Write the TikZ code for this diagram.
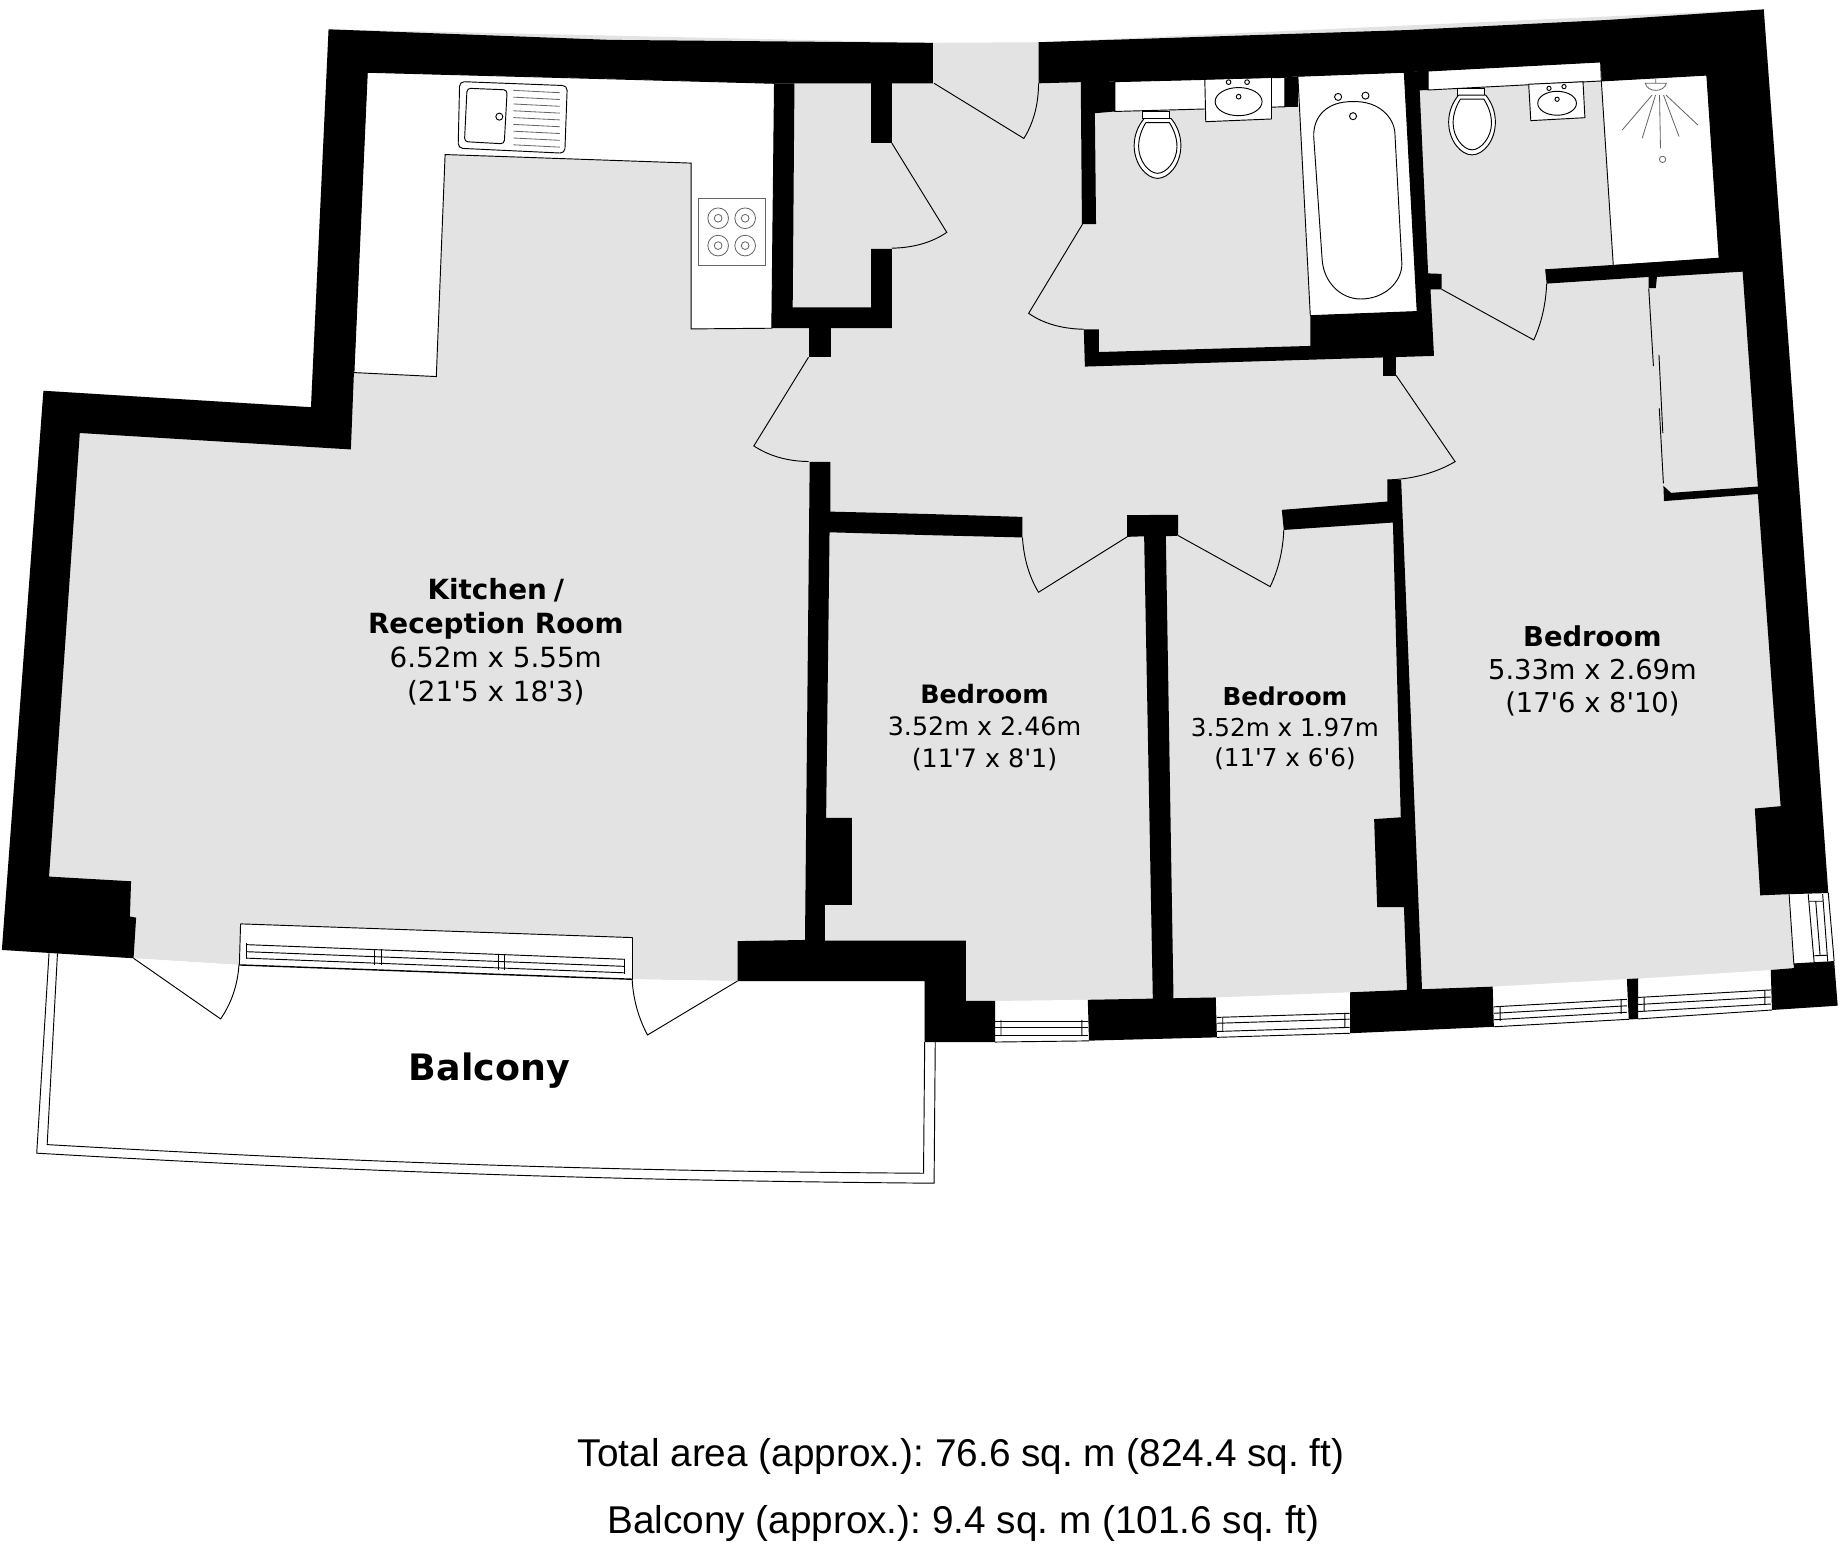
\documentclass[tikz,border=0pt]{standalone}
\usepackage{fontspec}
\usetikzlibrary{calc}
\setmainfont{DejaVu Sans}
\newfontfamily\areafont{Liberation Sans}

\definecolor{floorgray}{HTML}{E3E3E3}
\tikzset{
  floorfill/.style={fill=floorgray},
  wallfill/.style={fill=black},
  fixfill/.style={fill=white,draw=black,line width=0.8pt},
  thinline/.style={draw=black,line width=0.8pt},
  grayline/.style={draw=black!60,line width=0.7pt},
  roomname/.style={align=center,inner sep=0pt},
}
\newcommand{\ft}{\textquotesingle}

\begin{document}
\frenchspacing
\begin{tikzpicture}[x=1pt,y=-1pt]

\useasboundingbox (0,0) rectangle (1568,1315.7);
\fill[white] (0,0) rectangle (1568,1315.7);

% balcony rail
\draw[thinline] (41.8,812) -- (31.3,982.7) .. controls (313,999) and (522,1006) .. (796,1008.3) -- (797,888);
\draw[thinline] (49,812) -- (40.2,975.4) .. controls (313,991) and (522,998) .. (787,999.8) -- (788,888);

% floor
\fill[floorfill] (280,25) -- (795,36.5) -- (885,36) -- (1503,8) -- (1534,426) -- (1558,761) -- (1566,857)
  -- (1510,860) -- (1273,875) -- (1037,884) -- (788,888) -- (788,836) -- (628.5,836) -- (539,834.5)
  -- (204,822.3) -- (113.8,816.6) -- (1.6,809.5) -- (37,333) -- (265,347) -- cycle;

% kitchen units and bathroom fittings
\fill[fixfill] (313,61.6) -- (660,71) -- (657.7,279.7) -- (589,280.3) -- (589,139) -- (379.3,131.7)
  -- (371.8,320.9) -- (301.6,317.5) -- cycle;
\fill[fixfill] (950,69.6) -- (1095,66) -- (1095,91) -- (950,95) -- cycle;
\fill[fixfill] (1106,65) -- (1196.7,61.6) -- (1207.7,265.5) -- (1116.6,269) -- cycle;
\fill[fixfill] (1217,60.5) -- (1364,52.8) -- (1364.6,69) -- (1217,76.7) -- cycle;
\fill[fixfill] (1364.6,69) -- (1454.5,64) -- (1465,220) -- (1374.8,226.3) -- cycle;

% sink
\draw[thinline,rounded corners=4pt] (391.7,69.5) -- (483.4,73) -- (481.3,130.6) -- (390.4,126.3) -- cycle;
\draw[thinline,rounded corners=3pt] (398,75.2) -- (432.2,76.6) -- (429.7,122.6) -- (395.8,120.7) -- cycle;
\draw[thinline] (425.5,99.4) circle (3);
\foreach \i in {0,...,8}
  \draw[grayline] (437.5,{77+5.8*\i}) -- (477,{79+5.8*\i});

% hob
\draw[grayline] (595,169) rectangle (652,226.6);
\foreach \hx in {612,635}
  \foreach \hy in {186,209.3} {
    \draw[grayline] (\hx,\hy) circle (8.8);
    \draw[grayline] (\hx,\hy) circle (3.3);
  }

% toilets
\foreach \tx/\ty in {0/0,268/-20} {
  \begin{scope}[shift={(\tx,\ty)}]
    \draw[fixfill] (973.7,95) rectangle (996.6,101);
    \draw[fixfill] (975,101) -- (998,101) .. controls (1003,107) and (1006.3,115) .. (1006.3,124)
      .. controls (1006.3,140) and (996,152) .. (986.4,152) .. controls (977,152) and (966.5,140) .. (966.5,124)
      .. controls (966.5,115) and (970,107) .. (975,101);
    \draw[thinline] (976.5,104.5) -- (996.5,104.5) .. controls (1000,110) and (1003,117) .. (1003,125)
      .. controls (1003,137) and (994,147.7) .. (986.4,147.7) .. controls (979,147.7) and (970.3,137) .. (970.3,125)
      .. controls (970.3,117) and (973,110) .. (976.5,104.5);
  \end{scope}
}

% first bathroom
\draw[fixfill] (1026.7,67.6) -- (1083.5,66) -- (1083.5,101.4) -- (1027.5,103.7) -- cycle;
\draw[thinline] (1055.5,86.6) ellipse (20 and 12);
\foreach \tapx/\tapy in {1047/70,1062.7/70,1055.5/82.4}
  \draw[thinline] (\tapx,\tapy) circle (2);
\draw[thinline] (1153.5,86.6) .. controls (1130,86) and (1119,100) .. (1119.5,116.4)
  -- (1126.7,221.5) .. controls (1128,240) and (1142,254.8) .. (1159.5,254.8)
  .. controls (1180,254.8) and (1195,240) .. (1194.6,224.4)
  -- (1188.7,113.6) .. controls (1188,100) and (1175,86) .. (1153.5,86.6);
\foreach \tapx/\tapy in {1140.3/82.6,1163.6/81.5,1153/99}
  \draw[thinline] (\tapx,\tapy) circle (3);

% second bathroom
\draw[fixfill] (1302.7,71.8) -- (1349,69.7) -- (1350.6,100.3) -- (1304.5,102.8) -- cycle;
\draw[thinline] (1326.9,88) ellipse (16.5 and 10.2);
\foreach \tapx/\tapy in {1320/75.3,1332.8/73.8,1326.9/84.6}
  \draw[thinline] (\tapx,\tapy) circle (1.8);
\draw[grayline] (1411,67) -- (1411,71) (1402,71) -- (1420,71) .. controls (1418,79) and (1404,79) .. (1402,71);
\foreach \rayx/\rayy/\endx/\endy in {1407.9/81/1382.4/110.8,1410.8/81/1399.4/117.9,1414.2/81/1415/126.4,1417.6/81/1430.8/116.4,1419.7/81/1446.8/106.5}
  \draw[grayline] (\rayx,\rayy) -- (\endx,\endy);
\draw[grayline] (1416.8,135.8) circle (2.7);

% wardrobe slides
\draw[thinline] (1405,245.7) -- (1409,312) (1413.7,302.5) -- (1417,369) (1414,348) -- (1417.5,412);

% windows
\fill[white] (847.5,853) -- (927,852) -- (928,887) -- (848,888) -- cycle;
\fill[white] (1036,850) -- (1150.6,845.6) -- (1150.6,880.5) -- (1037,884) -- cycle;
\fill[white] (1272,840.8) -- (1386.4,834.3) -- (1388,868.6) -- (1273,875) -- cycle;
\fill[white] (1396,834) -- (1509,826.6) -- (1510,860.7) -- (1396,868.3) -- cycle;
\fill[white] (1524,762) -- (1559,761) -- (1563,819.5) -- (1528.6,821) -- cycle;
\fill[white] (205,787.3) -- (539,799) -- (539,834.5) -- (204,822.3) -- cycle;
\fill[white] (113.8,816.6) -- (204,822.3) -- (203.6,824) -- cycle;
\fill[white] (539,834.5) -- (628.5,836) -- (539,836) -- cycle;
\draw[thinline] (205,787.3) -- (539,799) (205,787.3) -- (204,822.3) (539,799) -- (539,834.5);
\foreach \offs in {18,24,29.5}
  \draw[thinline] (210,787+\offs) -- (532.4,799.5+\offs);
\draw[thinline,line width=1.2pt] (204,822.3) -- (539,834.5);
\foreach \mulx/\muly in {210.4/804,319.5/809,325/809,425/814,430/814,532.4/817}
  \draw[thinline] (\mulx,\muly) -- (\mulx,\muly+13);

\foreach \offs in {870.6,876,882}
  \draw[thinline] (848,\offs) -- (927,\offs);
\draw[thinline] (853,869) -- (853,883) (922,869) -- (922,883) (848,888) -- (928,887);
\foreach \offs in {0,5,12}
  \draw[thinline] (1037,867+\offs) -- (1150,863.5+\offs);
\draw[thinline] (1042,867) -- (1042,879) (1146,863.5) -- (1146,876) (1037,884) -- (1150.6,880.5);
\foreach \offs in {0,5.5,11}
  \draw[thinline] (1273,858+\offs) -- (1386.4,851.6+\offs);
\draw[thinline] (1278.3,858) -- (1278.3,870) (1381.4,851.6) -- (1381.4,864) (1273,875) -- (1388,868.6);
\foreach \offs in {0,6,12}
  \draw[thinline] (1396,850+\offs) -- (1509,843.6+\offs);
\draw[thinline] (1401,850) -- (1401,862) (1504,843.6) -- (1504,856) (1396,868.3) -- (1510,860.7);
\draw[thinline] (1524.6,762) -- (1528.7,822) (1540.9,762) -- (1546,820.8) (1547.3,768) -- (1551,814)
  (1553.2,762) -- (1557.5,819) (1558,761) -- (1563,819)
  (1542,768) -- (1553.6,768) (1545.6,814.5) -- (1557.2,814);

% door leaves
\foreach \hinge/\tip/\ctrl/\jamb in {
  {796,71}/{872.5,118}/{885,98}/{885,71},
  {760,122}/{806.8,198}/{788,211}/{760,211.5},
  {922.5,191}/{876.6,267}/{895,280}/{923.6,280.6},
  {689,304.4}/{642.4,380}/{662,393}/{689,393.3},
  {1189.8,320}/{1240,393.4}/{1215,408}/{1182.3,409},
  {960.5,457.5}/{885,504.7}/{873,485}/{871.3,458},
  {1004,456.4}/{1082.4,499.9}/{1093,478}/{1094,451.6},
  {1228.5,246.5}/{1307,289.7}/{1317,268}/{1318,241.7},
  {113.8,816.6}/{188,868.3}/{202,848}/{203.6,822.3},
  {628.5,836}/{551.8,882}/{540,860}/{538.7,834.5}}
  \draw[thinline] (\hinge) -- (\tip) .. controls ($(\tip)!0.66!(\ctrl)$) and ($(\jamb)!0.66!(\ctrl)$) .. (\jamb);

% walls
\fill[wallfill] (280,25) -- (520,34) -- (795,36.5) -- (795,71) -- (660,71) -- (520,67) -- (313,61.6)
  -- (301.6,317.5) -- (299,383) -- (68,369) -- (41.8,747) -- (111.7,751) -- (110.7,781) -- (116,782)
  -- (113.8,816.6) -- (1.6,809.5) -- (37,333) -- (265,347) -- cycle;
\fill[wallfill] (660,71) -- (677,71) -- (675.5,262) -- (742.4,262) -- (742.4,212) -- (760,212)
  -- (760,279.7) -- (657.7,279.7) -- cycle;
\fill[wallfill] (742.4,71) rectangle (760,122);
\fill[wallfill] (689,279.7) rectangle (708.5,304.4);
\fill[wallfill] (690,393.6) -- (707.7,393.6) -- (707.7,436) -- (790,438) -- (871.3,440.5) -- (871.3,458)
  -- (790,456) -- (706.9,453.6) -- (704,697) -- (726,697) -- (726,771) -- (703,771) -- (703,801.6)
  -- (823,801.6) -- (823,853) -- (848,853) -- (848,888) -- (788,888) -- (788,836) -- (628.5,836)
  -- (628.5,802) -- (686,801) -- cycle;
\fill[wallfill] (960.5,439) -- (1004,438.7) -- (1004,456.5) -- (993.5,457) -- (1000,850.7) -- (1036,850)
  -- (1037,884) -- (928,886.8) -- (927,852) -- (982.4,851) -- (975,457) -- (960.5,457.5) -- cycle;
\fill[wallfill] (1092.3,434.5) -- (1182.3,427.4) -- (1182.3,409) -- (1194,409) -- (1211.8,843)
  -- (1272,840.8) -- (1273,875) -- (1150.6,880.5) -- (1150.6,845.6) -- (1199,843.6) -- (1196.4,773)
  -- (1173.6,773) -- (1171,698) -- (1193.7,696.5) -- (1187,445.3) -- (1094,451.6) -- cycle;
\fill[wallfill] (921,70) -- (950,69.6) -- (950,95) -- (933,96.5) -- (934,191) -- (922,191) -- cycle;
\fill[wallfill] (1095,66) -- (1106,65) -- (1106,91) -- (1095,91) -- cycle;
\fill[wallfill] (923.6,280.6) -- (936.4,280.6) -- (936.4,300) -- (1116.6,294.8) -- (1116.6,269)
  -- (1207.7,265.5) -- (1196.7,61) -- (1217,60.5) -- (1217,76.7) -- (1209.8,77) -- (1217,233)
  -- (1228.5,233.4) -- (1228.5,246.5) -- (1219,246.5) -- (1222,303.3) -- (924.5,312.4) -- cycle;
\fill[wallfill] (1178.6,304) rectangle (1189.8,320);
\fill[wallfill] (885,36) -- (1200,25.6) -- (1370,17) -- (1503,8) -- (1534,426) -- (1558,761) -- (1524,762)
  -- (1500,763) -- (1495.4,689) -- (1517.4,687) -- (1498,421) -- (1418,427) -- (1417.5,414) -- (1424,420)
  -- (1498,414.6) -- (1485,231.5) -- (1412,236) -- (1411,245.6) -- (1405,245.6) -- (1405,236) -- (1318,241.7)
  -- (1316.7,229.5) -- (1465,220) -- (1454.5,64) -- (1365,69) -- (1364,52.8) -- (1217,60.5) -- (1196.7,61.6)
  -- (1106,65) -- (1095,66) -- (950,69.6) -- (921,70) -- (885,71) -- cycle;
\fill[wallfill] (1528.6,821) -- (1563,819) -- (1566,857) -- (1510,860.7) -- (1509,826.6) -- (1528.6,825) -- cycle;
\fill[wallfill] (1386.4,834.3) -- (1396,833.8) -- (1396,868.3) -- (1388,868.8) -- cycle;

% labels
\node[roomname,font=\fontsize{23.7}{29}\selectfont] (kitchen) at (422.5,547) {\textbf{Kitchen\hspace{0.25em}/}\\\textbf{Reception Room}\\6.52m x 5.55m\\(21\ft 5 x 18\ft 3)};
\node[roomname,font=\fontsize{21.6}{27}\selectfont] (bedroomone) at (839,620) {\textbf{Bedroom}\\3.52m x 2.46m\\(11\ft 7 x 8\ft 1)};
\node[roomname,font=\fontsize{21}{26}\selectfont] (bedroomtwo) at (1095,621) {\textbf{Bedroom}\\3.52m x 1.97m\\(11\ft 7 x 6\ft 6)};
\node[roomname,font=\fontsize{23.3}{28}\selectfont] (bedroomthree) at (1357,572) {\textbf{Bedroom}\\5.33m x 2.69m\\(17\ft 6 x 8\ft 10)};
\node[font=\fontsize{31}{36}\selectfont\bfseries,inner sep=0pt] (balcony) at (417,912) {Balcony};
\node[font=\areafont\fontsize{33}{40}\selectfont,inner sep=0pt] (totalarea) at (819,1241) {Total area (approx.): 76.6 sq. m (824.4 sq. ft)};
\node[font=\areafont\fontsize{33}{40}\selectfont,inner sep=0pt] (balconyarea) at (821,1298) {Balcony (approx.): 9.4 sq. m (101.6 sq. ft)};

\end{tikzpicture}
\end{document}
